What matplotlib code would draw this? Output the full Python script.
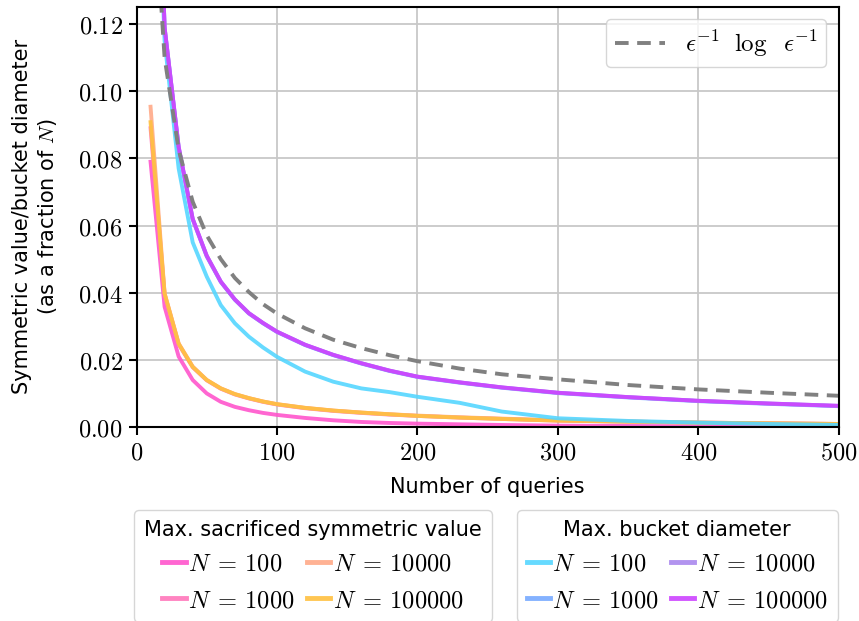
import matplotlib
matplotlib.use("Agg")
import matplotlib.pyplot as plt
from matplotlib.ticker import FuncFormatter

plt.rcParams['mathtext.fontset'] = 'cm'
plt.rcParams['font.family'] = ['DejaVu Sans']

# number of queries at which the curves were sampled
queries = [10, 20, 30, 40, 50, 60, 70, 80, 90, 100, 120, 140, 160, 180,
           200, 230, 260, 300, 350, 400, 450, 500]

# max. sacrificed symmetric value (fraction of N)
sac_100 = [0.079, 0.0358, 0.021, 0.014, 0.0100, 0.0075, 0.0060, 0.0050, 0.0042, 0.0036,
           0.0027, 0.0020, 0.0015, 0.0012, 0.0010, 0.0008, 0.0006, 0.0004, 0.0003,
           0.0002, 0.00015, 0.0001]
sac_1000 = [0.089, 0.0395, 0.0246, 0.0178, 0.0139, 0.0114, 0.0097, 0.0085, 0.0075, 0.0067,
            0.0056, 0.0048, 0.0042, 0.0037, 0.0033, 0.0028, 0.0024, 0.0019, 0.0016,
            0.0013, 0.0011, 0.0009]
sac_10000 = [0.0954, 0.0398, 0.0249, 0.018, 0.0140, 0.0115, 0.0098, 0.0086, 0.0076, 0.0068,
             0.0057, 0.0049, 0.0043, 0.0038, 0.0034, 0.0029, 0.0025, 0.0020, 0.0016,
             0.0013, 0.0011, 0.0009]
sac_100000 = [0.0908, 0.0397, 0.0248, 0.0179, 0.0140, 0.0115, 0.0098, 0.0086, 0.0076, 0.0068,
              0.0057, 0.0049, 0.0043, 0.0038, 0.0033, 0.0028, 0.0024, 0.0019, 0.0016,
              0.0013, 0.0011, 0.0009]

# max. bucket diameter (fraction of N)
diam_100 = [0.22, 0.115, 0.077, 0.055, 0.0448, 0.0363, 0.0309, 0.0269, 0.0237, 0.0209,
            0.0165, 0.0135, 0.0115, 0.0104, 0.0090, 0.0072, 0.0046, 0.0026, 0.0018,
            0.0013, 0.0009, 0.0006]
diam_1000 = [0.24, 0.119, 0.0832, 0.0618, 0.0508, 0.0432, 0.0379, 0.0338, 0.0309, 0.0283,
             0.0244, 0.0214, 0.0189, 0.0167, 0.0149, 0.0132, 0.0117, 0.0101, 0.0088,
             0.0077, 0.0069, 0.0062]
diam_10000 = [0.24, 0.119, 0.0834, 0.062, 0.051, 0.0433, 0.038, 0.0339, 0.031, 0.0284,
              0.0245, 0.0215, 0.019, 0.0168, 0.0150, 0.0133, 0.0118, 0.0102, 0.0089,
              0.0078, 0.0070, 0.0063]
diam_100000 = [0.24, 0.119, 0.0835, 0.062, 0.051, 0.0433, 0.038, 0.0339, 0.031, 0.0284,
               0.0245, 0.0215, 0.019, 0.0168, 0.0150, 0.0133, 0.0118, 0.0102, 0.0089,
               0.0078, 0.0070, 0.0063]

# reference curve eps^-1 log eps^-1
ref_eps = [0.175, 0.110, 0.0826, 0.0671, 0.0571, 0.0500, 0.0444, 0.0402, 0.0366, 0.0338,
           0.0294, 0.0260, 0.0235, 0.0214, 0.0196, 0.0174, 0.0157, 0.0142, 0.0125,
           0.0112, 0.0102, 0.0093]

fig = plt.figure(figsize=(8.59, 6.21), dpi=100)
ax = fig.add_axes([136.5 / 859, 1 - 427 / 621, 702.5 / 859, 420.3 / 621])

ax.grid(True, color='#c8c8c8', linewidth=1.3, zorder=0)
ax.set_axisbelow(True)

lw = 2.8
sac_lines = []
for vals, col in zip([sac_100, sac_1000, sac_10000, sac_100000],
                     ['#ff55cc', '#ff77bb', '#ffaa88', '#ffc040']):
    l, = ax.plot(queries, vals, color=col, lw=lw, alpha=0.9)
    sac_lines.append(l)

diam_lines = []
for vals, col in zip([diam_100, diam_1000, diam_10000, diam_100000],
                     ['#55d6ff', '#77aaff', '#aa88ee', '#cc44ff']):
    l, = ax.plot(queries, vals, color=col, lw=lw, alpha=0.9)
    diam_lines.append(l)

ref_line, = ax.plot(queries, ref_eps, color='gray', lw=2.8, ls=(0, (3.5, 2.2)))

ax.set_xlim(0, 500)
ax.set_ylim(0, 0.1252)
ax.set_xticks([0, 100, 200, 300, 400, 500])
ax.set_yticks([0, 0.02, 0.04, 0.06, 0.08, 0.10, 0.12])
ax.xaxis.set_major_formatter(FuncFormatter(lambda v, p: r'$%d$' % v))
ax.yaxis.set_major_formatter(FuncFormatter(lambda v, p: r'$%.2f$' % v))
ax.tick_params(labelsize=17.5, width=1.5, length=6, pad=4)
for s in ax.spines.values():
    s.set_linewidth(1.5)

ax.set_xlabel('Number of queries', fontsize=15, labelpad=9)
ax.set_ylabel('Symmetric value/bucket diameter\n(as a fraction of $N$)', fontsize=15,
              labelpad=14)

leg0 = ax.legend([ref_line], [r'$\epsilon^{-1}\;\ \log\;\ \epsilon^{-1}$'], loc='upper right',
                 fontsize=18, handlelength=2.0, borderpad=0.35, handletextpad=0.8)
ax.add_artist(leg0)

labels = [r'$N\;=\,100$', r'$N\;=\,1000$', r'$N\;=\,10000$', r'$N\;=\,100000$']
leg_kw = dict(ncol=2, fontsize=17.6, title_fontsize=15, handlelength=0.95,
              handletextpad=0.1, columnspacing=0.5, borderaxespad=0)
leg1 = ax.legend(sac_lines, labels, title='Max. sacrificed symmetric value',
                 loc='upper left', bbox_to_anchor=(-0.003, -0.197), **leg_kw)
ax.add_artist(leg1)
leg2 = ax.legend(diam_lines, labels, title='Max. bucket diameter',
                 loc='upper right', bbox_to_anchor=(0.998, -0.197), **leg_kw)
for lg in (leg1, leg2):
    for h in lg.get_lines():
        h.set_linewidth(3.5)

fig.savefig('out.png', dpi=100)
